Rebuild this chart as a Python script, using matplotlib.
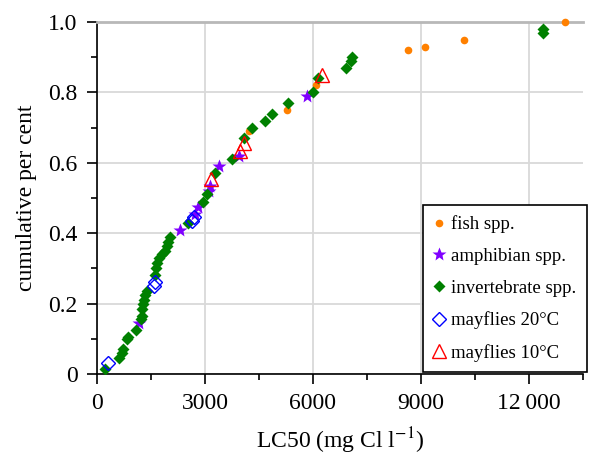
import numpy as np
import matplotlib
matplotlib.use('Agg')
import matplotlib.pyplot as plt
from matplotlib.ticker import MultipleLocator, FixedLocator

plt.rcParams['font.family'] = ['Liberation Serif', 'DejaVu Serif']
plt.rcParams['mathtext.fontset'] = 'stix'

# ------------------data------------------------------------------
fish_x = [4220, 5270, 6080, 8630, 9100, 10200, 13000]
fish_y = [0.69, 0.75, 0.82, 0.92, 0.93, 0.95, 1.00]

amph_x = [1170, 2320, 2720, 2810, 3100, 3140, 3400, 3940, 5830]
amph_y = [0.145, 0.41, 0.455, 0.475, 0.52, 0.535, 0.59, 0.62, 0.79]

inv_x = [220, 610, 690, 730, 820, 870, 1080, 1220, 1240, 1260, 1290, 1310, 1330, 1380,
         1610, 1630, 1680, 1730, 1810, 1890, 1940, 1980, 2030, 2520, 2940, 3050, 3290,
         3760, 4080, 4310, 4670, 4850, 5310, 6010, 6130, 6910, 7060, 7080, 12380, 12380]
inv_y = [0.015, 0.045, 0.06, 0.07, 0.10, 0.105, 0.125, 0.155, 0.165, 0.185, 0.20, 0.21, 0.225, 0.235,
         0.28, 0.30, 0.315, 0.33, 0.34, 0.35, 0.365, 0.375, 0.39, 0.43, 0.49, 0.51, 0.57,
         0.61, 0.67, 0.70, 0.72, 0.74, 0.77, 0.80, 0.84, 0.87, 0.89, 0.90, 0.97, 0.98]

mf20_x = [300, 1570, 1600, 2650, 2700]
mf20_y = [0.03, 0.25, 0.26, 0.435, 0.445]

mf10_x = [3160, 3970, 4080, 6240]
mf10_y = [0.555, 0.635, 0.655, 0.85]

x_ticks = [0, 3000, 6000, 9000, 12000]
x_ticklabels = ['0', '3000', '6000', '9000', '12\u2009000']
y_ticks = [0, 0.2, 0.4, 0.6, 0.8, 1.0]
y_ticklabels = ['0', '0.2', '0.4', '0.6', '0.8', '1.0']

# ------------------plot-----------------------
fig = plt.figure(figsize=(5.91, 4.57), dpi=100)
ax = fig.add_axes([0.1641, 0.1816, 0.8223, 0.7702])

ax.plot(fish_x, fish_y, 'o', color='#ff8000', ms=5.5, mec='none', label='fish spp.', clip_on=False, zorder=3)
ax.plot(amph_x, amph_y, '*', color='#8000ff', ms=10.5, mec='none', label='amphibian spp.', zorder=3)
ax.plot(inv_x, inv_y, 'D', color='#008000', ms=6.3, mec='none', label='invertebrate spp.', zorder=3)
ax.plot(mf20_x, mf20_y, 'D', color='#0000ff', ms=7, mfc='none', mew=1, label='mayflies 20°C', zorder=4)
ax.plot(mf10_x, mf10_y, '^', color='#ff0000', ms=10, mfc='none', mew=1, label='mayflies 10°C', zorder=4)

ax.set_xlim(0, 13500)
ax.set_ylim(0, 1.0)

ax.xaxis.set_major_locator(FixedLocator(x_ticks))
ax.set_xticklabels(x_ticklabels)
ax.xaxis.set_minor_locator(MultipleLocator(1500))
ax.yaxis.set_major_locator(FixedLocator(y_ticks))
ax.set_yticklabels(y_ticklabels)
ax.yaxis.set_minor_locator(MultipleLocator(0.1))

ax.tick_params(which='major', direction='out', length=7, width=1.2, labelsize=17, pad=7)
ax.tick_params(which='minor', direction='out', length=4, width=1.2)

ax.grid(True, which='major', color='#d9d9d9', linewidth=1.3, zorder=0)
ax.set_axisbelow(True)

ax.spines['right'].set_visible(False)
ax.spines['top'].set_color('#b8b8b8')
ax.spines['top'].set_linewidth(2)
ax.spines['left'].set_linewidth(1.2)
ax.spines['bottom'].set_linewidth(1.2)

ax.set_xlabel(r'LC50 (mg Cl l$^{-1}$)', fontsize=17, labelpad=8)
ax.set_ylabel('cumulative per cent', fontsize=17, labelpad=8)

leg = ax.legend(loc='lower right', bbox_to_anchor=(1.008, 0.006), fontsize=13.5,
                frameon=True, fancybox=False, edgecolor='black', framealpha=1,
                labelspacing=0.78, handlelength=0.6, handletextpad=0.35, borderpad=0.55,
                borderaxespad=0)
leg.get_frame().set_linewidth(1.2)

fig.savefig('out.png', dpi=100)
